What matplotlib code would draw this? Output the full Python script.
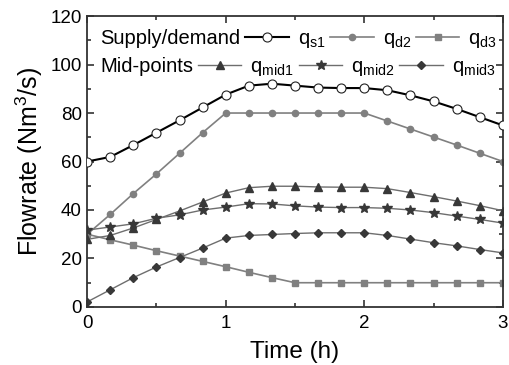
import matplotlib
matplotlib.use("Agg")
import matplotlib.pyplot as plt
from matplotlib.lines import Line2D
from matplotlib.ticker import MultipleLocator

plt.rcParams['font.family'] = ['Liberation Sans', 'DejaVu Sans']
plt.rcParams['mathtext.fontset'] = 'custom'
plt.rcParams['mathtext.rm'] = 'Liberation Sans'
plt.rcParams['mathtext.it'] = 'Liberation Sans'

# time in hours, every 10 minutes
t = [i / 6 for i in range(19)]

q_s1 = [60.0, 61.9, 66.8, 71.9, 77.0, 82.3, 87.6, 91.3, 92.1, 91.3, 90.5,
        90.3, 90.3, 89.4, 87.3, 84.8, 81.7, 78.3, 74.9]
q_d2 = [30.0, 38.2, 46.8, 54.9, 63.4, 71.9, 80.0, 80.0, 80.0, 80.0, 80.0,
        80.0, 80.0, 76.7, 73.4, 70.1, 66.8, 63.4, 60.0]
q_d3 = [30.0, 27.7, 25.5, 23.2, 21.0, 18.8, 16.6, 14.3, 12.1, 10.0, 10.0,
        10.0, 10.0, 10.0, 10.0, 10.0, 10.0, 10.0, 10.0]
q_mid1 = [27.9, 29.5, 32.6, 36.1, 39.6, 43.3, 47.0, 49.2, 49.8, 49.8, 49.5,
          49.4, 49.4, 48.8, 47.2, 45.5, 43.7, 41.8, 39.7]
q_mid2 = [31.7, 33.0, 34.3, 36.6, 38.0, 40.0, 41.2, 42.6, 42.5, 41.7, 41.2,
          41.0, 41.0, 40.7, 40.0, 38.9, 37.5, 36.1, 34.6]
q_mid3 = [2.1, 7.1, 12.1, 16.5, 20.4, 24.3, 28.4, 29.5, 29.9, 30.3, 30.6,
          30.6, 30.6, 29.5, 28.0, 26.5, 25.2, 23.7, 22.3]

fig = plt.figure(figsize=(5.1, 3.65), dpi=100)
ax = fig.add_axes([0.171, 0.159, 0.815, 0.797])

grey = '#808080'
midline = '#6e6e6e'
midmark = '#383838'

s1, = ax.plot(t, q_s1, color='black', lw=1.5, marker='o', ms=6.5,
              mfc='white', mec='#222222', mew=0.8, zorder=5)
d2, = ax.plot(t, q_d2, color=grey, lw=1.2, marker='o', ms=4.5, mec=grey, mfc=grey)
d3, = ax.plot(t, q_d3, color=grey, lw=1.2, marker='s', ms=4, mec=grey, mfc=grey)
m1, = ax.plot(t, q_mid1, color=midline, lw=1.0, marker='^', ms=5.5,
              mfc=midmark, mec=midmark)
m2, = ax.plot(t, q_mid2, color=midline, lw=1.0, marker='*', ms=7.5,
              mfc=midmark, mec=midmark)
m3, = ax.plot(t, q_mid3, color=midline, lw=1.0, marker='D', ms=4,
              mfc=midmark, mec=midmark)

ax.set_xlim(0, 3)
ax.set_ylim(0, 120)
ax.xaxis.set_major_locator(MultipleLocator(1))
ax.xaxis.set_minor_locator(MultipleLocator(0.5))
ax.yaxis.set_major_locator(MultipleLocator(20))
ax.yaxis.set_minor_locator(MultipleLocator(10))
ax.tick_params(which='both', direction='in', top=True, right=True,
               labelsize=13.5, color='#333333', width=1.2)
ax.tick_params(which='major', length=5)
ax.tick_params(axis='x', which='major', pad=6)
ax.tick_params(axis='y', which='major', pad=4)
ax.tick_params(which='minor', length=3)
for sp in ax.spines.values():
    sp.set_linewidth(1.3)
    sp.set_color('#333333')

ax.set_xlabel('Time (h)', fontsize=17.5, labelpad=6)
ax.set_ylabel('Flowrate (Nm$^3$/s)', fontsize=18, labelpad=4)

blank = Line2D([], [], linestyle='none')
leg_kw = dict(ncol=4, frameon=False, markerfirst=False, fontsize=14.5,
              handlelength=2.15, handletextpad=0.25, columnspacing=0.45,
              borderaxespad=0.0, borderpad=0.0)
leg1 = ax.legend([s1, d2, d3, blank],
                 ['Supply/demand', '$\\mathregular{q_{s1}}$',
                  '$\\mathregular{q_{d2}}$', '$\\mathregular{q_{d3}}$'],
                 loc='upper left', bbox_to_anchor=(0.031, 0.955), **leg_kw)
ax.add_artist(leg1)
ax.legend([m1, m2, m3, blank],
          ['Mid-points', '$\\mathregular{q_{mid1}}$',
           '$\\mathregular{q_{mid2}}$', '$\\mathregular{q_{mid3}}$'],
          loc='upper left', bbox_to_anchor=(0.031, 0.858), **leg_kw)

fig.savefig('out.png', dpi=100)
